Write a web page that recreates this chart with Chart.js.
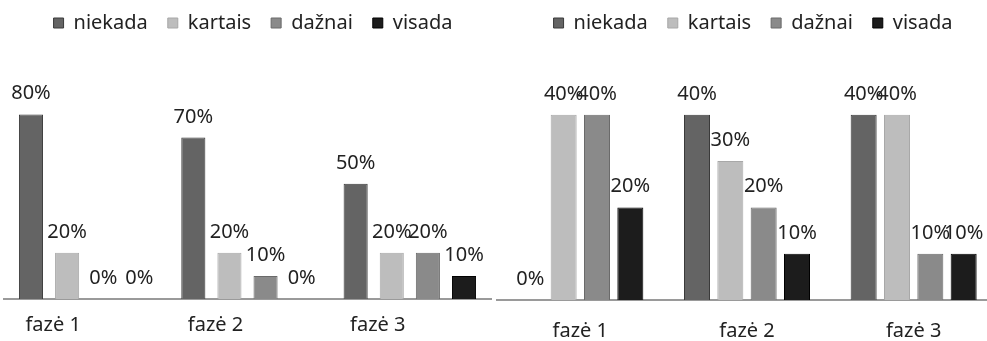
<!DOCTYPE html>
<html>
<head>
<meta charset="utf-8">
<script src="https://cdn.jsdelivr.net/npm/chart.js@4"></script>
<style>
html, body { margin: 0; padding: 0; background: #fff; overflow: hidden; width: 987px; height: 341px; }
#phase1 { position: absolute; left: 0; top: -7px; }
#phase2 { position: absolute; left: 490px; top: -7px; }
</style>
</head>
<body>
<canvas id="phase1" width="517" height="380"></canvas>
<canvas id="phase2" width="542" height="380"></canvas>
<script>
var phases = ['fazė 1', 'fazė 2', 'fazė 3'];
var seriesNames = ['niekada', 'kartais', 'dažnai', 'visada'];

// left chart, percent
var leftNiekada = [80, 70, 50];
var leftKartais = [20, 20, 20];
var leftDaznai = [0, 10, 20];
var leftVisada = [0, 0, 10];

// right chart, percent
var rightNiekada = [0, 40, 40];
var rightKartais = [40, 30, 40];
var rightDaznai = [40, 20, 10];
var rightVisada = [20, 10, 10];

var fills = ['#646464', '#bdbdbd', '#8a8a8a', '#1c1c1c'];
var edges = ['#3a3a3a', '#a8a8a8', '#6a6a6a', '#000000'];
var font = "'Noto Sans', sans-serif";

// percent labels above each bar
var valueLabels = {
	id: 'valueLabels',
	afterDatasetsDraw: function(chart) {
		var ctx = chart.ctx;
		ctx.save();
		ctx.font = '20px ' + font;
		ctx.fillStyle = '#222';
		ctx.textAlign = 'center';
		ctx.textBaseline = 'alphabetic';
		chart.data.datasets.forEach(function(ds, i) {
			chart.getDatasetMeta(i).data.forEach(function(bar, j) {
				ctx.fillText(ds.data[j] + '%', bar.x, bar.y - 15);
			});
		});
		ctx.restore();
	}
};

function makeChart(id, values, opts) {
	var datasets = [];
	for (var i = 0; i < seriesNames.length; i++) {
		datasets.push({
			label: seriesNames[i],
			data: values[i],
			backgroundColor: fills[i],
			borderColor: edges[i],
			borderWidth: 1,
			categoryPercentage: opts.catPct,
			barPercentage: opts.barPct
		});
	}
	return new Chart(document.getElementById(id), {
		type: 'bar',
		data: { labels: phases, datasets: datasets },
		options: {
			responsive: false,
			animation: false,
			layout: { padding: opts.padding },
			plugins: {
				legend: {
					position: 'top',
					labels: {
						boxWidth: 10,
						boxHeight: 10,
						padding: 20,
						color: '#222',
						font: { family: font, size: 20 }
					}
				},
				tooltip: { enabled: false }
			},
			scales: {
				x: {
					grid: { display: false, drawTicks: false },
					border: { display: true, color: '#9a9a9a', width: 2 },
					ticks: {
						color: '#222',
						padding: opts.tickPad,
						labelOffset: opts.labelOffset,
						font: { family: font, size: 20 }
					}
				},
				y: {
					position: 'right',
					min: 0,
					max: opts.yMax,
					grid: { display: false },
					border: { display: false },
					ticks: { display: false },
					// empty strip on the right so the legend sits a bit right of the bars
					afterFit: function(scale) { scale.width = opts.rightGap; }
				}
			}
		},
		plugins: [valueLabels]
	});
}

makeChart('phase1', [leftNiekada, leftKartais, leftDaznai, leftVisada], {
	catPct: 0.89, barPct: 0.667, yMax: 111, tickPad: 14, labelOffset: -32, rightGap: 11,
	padding: { left: 4, right: 15, top: 0, bottom: 22 }
});

makeChart('phase2', [rightNiekada, rightKartais, rightDaznai, rightVisada], {
	catPct: 0.8, barPct: 0.78, yMax: 55.5, tickPad: 19, labelOffset: 0, rightGap: 12,
	padding: { left: 7, right: 23, top: 0, bottom: 11 }
});
</script>
</body>
</html>
